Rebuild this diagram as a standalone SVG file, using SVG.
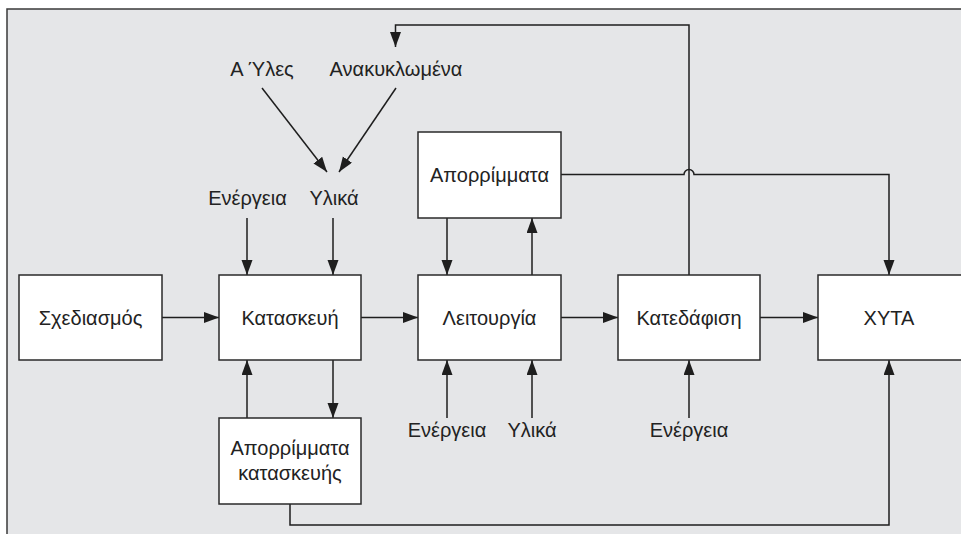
<svg xmlns="http://www.w3.org/2000/svg" width="961" height="534" viewBox="0 0 961 534">
<defs>
<marker id="ah" markerUnits="userSpaceOnUse" markerWidth="16" markerHeight="12" refX="15" refY="5.5" orient="auto">
<path d="M0,0 L15,5.5 L0,11 z" fill="#1e1e1e"/>
</marker>
<style>
.box{fill:#ffffff;stroke:#2a2a2a;stroke-width:1.5}
.lbl{font-family:"Liberation Sans",Arial,sans-serif;font-size:20px;fill:#222;text-anchor:middle}
.ar{fill:none;stroke:#1e1e1e;stroke-width:1.5;marker-end:url(#ah)}
</style>
</defs>
<rect x="0" y="0" width="961" height="534" fill="#ffffff"/>
<rect x="7" y="9" width="960" height="530" fill="#e5e6e8" stroke="#3a3a3a" stroke-width="1.5"/>

<g id="connectors">
<path class="ar" d="M162,317.5 H219"/>
<path class="ar" d="M361,317.5 H418"/>
<path class="ar" d="M561,317.5 H618"/>
<path class="ar" d="M760,317.5 H818"/>
<path class="ar" d="M247,218 V275"/>
<path class="ar" d="M333,218 V275"/>
<path class="ar" d="M262,88 L327,172"/>
<path class="ar" d="M396,88 L339,172"/>
<path class="ar" d="M689,275 V25 H395.5 V47"/>
<path class="ar" d="M447,218 V275"/>
<path class="ar" d="M532,275 V218"/>
<path class="ar" d="M561,174.5 H684 A5,5 0 0 1 694,174.5 H889 V275"/>
<path class="ar" d="M333,360 V418"/>
<path class="ar" d="M247,418 V360"/>
<path class="ar" d="M447,418 V360"/>
<path class="ar" d="M532,418 V360"/>
<path class="ar" d="M689,418 V360"/>
<path class="ar" d="M290,504 V525 H889 V360"/>
</g>

<g id="n-sxediasmos"><rect class="box" x="19" y="275" width="143" height="85"/><text class="lbl" x="90.5" y="325">Σχεδιασμός</text></g>
<g id="n-kataskevi"><rect class="box" x="219" y="275" width="142" height="85"/><text class="lbl" x="290" y="325">Κατασκευή</text></g>
<g id="n-leitourgia"><rect class="box" x="418" y="275" width="143" height="85"/><text class="lbl" x="489.5" y="325">Λειτουργία</text></g>
<g id="n-katedafisi"><rect class="box" x="618" y="275" width="142" height="85"/><text class="lbl" x="689" y="325">Κατεδάφιση</text></g>
<g id="n-xyta"><rect class="box" x="818" y="275" width="150" height="85"/><text class="lbl" x="889" y="325">ΧΥΤΑ</text></g>
<g id="n-aporrimmata-kat"><rect class="box" x="219" y="418" width="142" height="86"/><text class="lbl" x="290" y="455">Απορρίμματα</text><text class="lbl" x="290" y="480">κατασκευής</text></g>
<g id="n-aporrimmata"><rect class="box" x="418" y="132" width="143" height="86"/><text class="lbl" x="489.5" y="182">Απορρίμματα</text></g>

<g id="labels">
<text class="lbl" x="262" y="76">Α Ύλες</text>
<text class="lbl" x="396" y="76">Ανακυκλωμένα</text>
<text class="lbl" x="247.5" y="205">Ενέργεια</text>
<text class="lbl" x="334" y="205">Υλικά</text>
<text class="lbl" x="447" y="437">Ενέργεια</text>
<text class="lbl" x="532" y="437">Υλικά</text>
<text class="lbl" x="689" y="437">Ενέργεια</text>
</g>
</svg>
